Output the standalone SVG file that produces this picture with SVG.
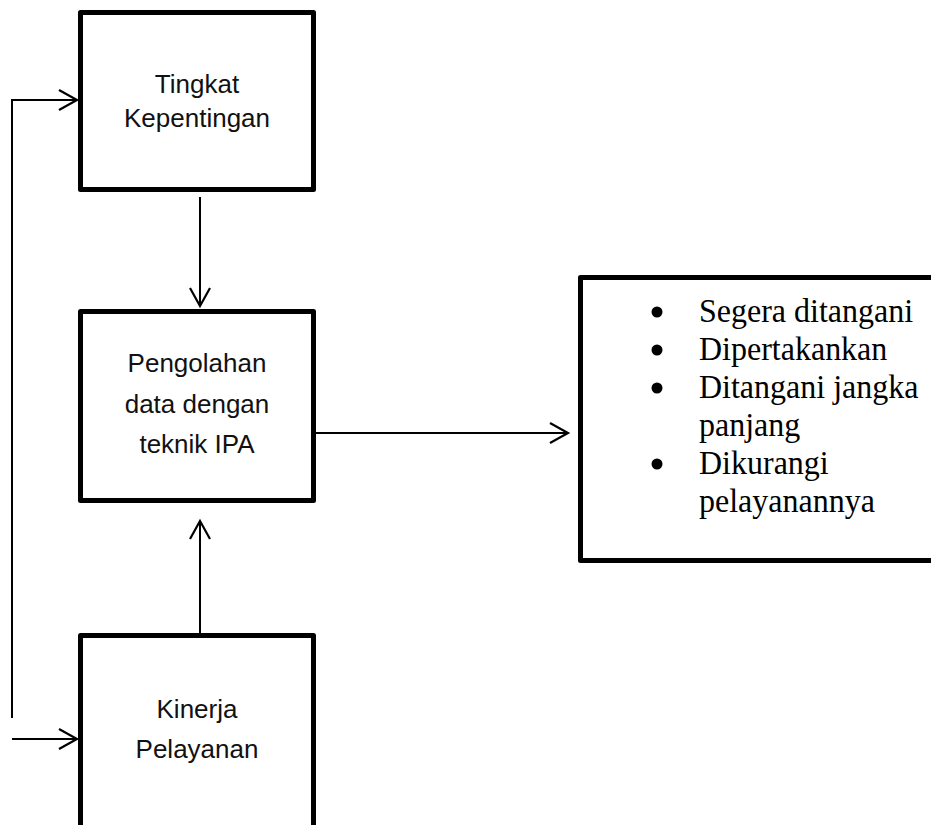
<svg xmlns="http://www.w3.org/2000/svg" width="931" height="825" viewBox="0 0 931 825">
<style>
.box{fill:#fff;stroke:#000;stroke-width:5;stroke-linejoin:round}
.lbl{font-family:"Liberation Sans",Arial,sans-serif;font-size:26px;fill:#111;text-anchor:middle}
.lst{font-family:"Liberation Serif","Times New Roman",serif;font-size:32px;fill:#000}
.con{fill:none;stroke:#000;stroke-width:2}
</style>
<defs>
<marker id="arr" markerUnits="userSpaceOnUse" markerWidth="24" markerHeight="26" refX="19" refY="11" orient="auto" viewBox="0 0 24 26">
<path d="M1,1 L19,11 L1,21" fill="none" stroke="#000" stroke-width="2.2"/>
</marker>
</defs>
<rect width="931" height="825" fill="#fff"/>
<g id="connectors">
<line class="con" x1="200" y1="197" x2="200" y2="306" marker-end="url(#arr)"/>
<line class="con" x1="200" y1="633" x2="200" y2="521" marker-end="url(#arr)"/>
<line class="con" x1="316" y1="433" x2="568" y2="433" marker-end="url(#arr)"/>
<polyline class="con" points="12,718 12,100 77,100" marker-end="url(#arr)"/>
<line class="con" x1="12" y1="739" x2="77" y2="739" marker-end="url(#arr)"/>
</g>
<g id="tingkat">
<rect class="box" x="80.5" y="12.5" width="233" height="177"/>
<text class="lbl" x="197" y="93">Tingkat</text>
<text class="lbl" x="197" y="127">Kepentingan</text>
</g>
<g id="pengolahan">
<rect class="box" x="80.5" y="311.5" width="233" height="189"/>
<text class="lbl" x="197" y="372">Pengolahan</text>
<text class="lbl" x="197" y="413">data dengan</text>
<text class="lbl" x="197" y="453">teknik IPA</text>
</g>
<g id="kinerja">
<rect class="box" x="80.5" y="635.5" width="233" height="210"/>
<text class="lbl" x="197" y="718">Kinerja</text>
<text class="lbl" x="197" y="758">Pelayanan</text>
</g>
<g id="hasil">
<rect class="box" x="580.5" y="277.5" width="370" height="283"/>
<g fill="#000">
<circle cx="657" cy="312" r="5.5"/>
<circle cx="657" cy="350" r="5.5"/>
<circle cx="657" cy="388" r="5.5"/>
<circle cx="657" cy="464" r="5.5"/>
</g>
<g class="lst" transform="scale(1,1.06)">
<text x="699" y="303.8">Segera ditangani</text>
<text x="699" y="339.6">Dipertakankan</text>
<text x="699" y="375.5">Ditangani jangka</text>
<text x="699" y="411.3">panjang</text>
<text x="699" y="447.2">Dikurangi</text>
<text x="699" y="483">pelayanannya</text>
</g>
</g>
</svg>
